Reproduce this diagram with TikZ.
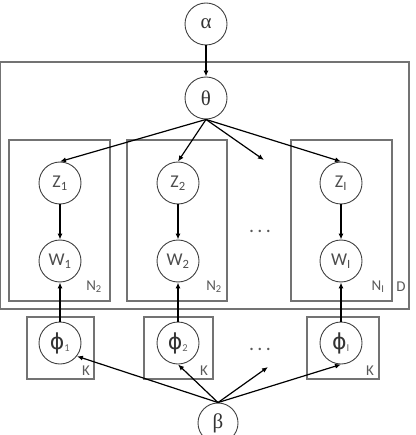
\documentclass[tikz,border=0pt]{standalone}
\usepackage{fontspec}
\setmainfont{Carlito}
\newfontfamily\grk{Liberation Serif}
\newfontfamily\phifont{DejaVu Sans}
\usetikzlibrary{arrows.meta}

\begin{document}
\begin{tikzpicture}[x=1pt,y=-1pt,>={Latex[length=6pt,width=5pt]},
  var/.style={circle,draw=black!75,line width=0.9pt,minimum size=42pt,inner sep=0pt,font=\fontsize{18}{18}\selectfont,text=black!70},
  hyper/.style={var,font=\grk\fontsize{21}{21}\selectfont,text=black!80},
  topic/.style={var,font=\fontsize{15}{15}\selectfont,text=black!60},
  plate/.style={draw=black!55,line width=1.1pt},
  lbl/.style={font=\fontsize{15}{15}\selectfont,text=black!65,inner sep=0pt},
  edge/.style={->,line width=1.2pt}]
\newcommand\tphi[1]{{\phifont\fontsize{22}{22}\selectfont\color{black!80}ϕ}\textsubscript{#1}}
\useasboundingbox (0,0) rectangle (415,435);
% plates
\draw[plate] (0.6,62) rectangle (409,309);
\draw[plate] (9,140) rectangle (110,301);
\draw[plate] (127,140) rectangle (227,301);
\draw[plate] (291,140) rectangle (392,301);
\draw[plate] (27,317) rectangle (94,379);
\draw[plate] (144,317) rectangle (213,379);
\draw[plate] (307,317) rectangle (379,379);
\node[lbl] (n1) at (94,287) {N\textsubscript{2}};
\node[lbl] (n2) at (214,287) {N\textsubscript{2}};
\node[lbl] (nI) at (378,287) {N\textsubscript{I}};
\node[lbl] (d) at (401,287) {D};
\node[lbl] (k1) at (86,371) {K};
\node[lbl] (k2) at (204,371) {K};
\node[lbl] (kI) at (370,371) {K};
% variables
\node[hyper] (alpha) at (206,24) {α};
\node[hyper] (theta) at (206,98) {θ};
\node[var] (z1) at (60,183) {Z\textsubscript{1}};
\node[var] (z2) at (178,183) {Z\textsubscript{2}};
\node[var] (zI) at (341,183) {Z\textsubscript{I}};
\node[var] (w1) at (60,261) {W\textsubscript{1}};
\node[var] (w2) at (178,261) {W\textsubscript{2}};
\node[var] (wI) at (341,261) {W\textsubscript{I}};
\node[topic] (phi1) at (60,343) {\tphi{1}};
\node[topic] (phi2) at (178,343) {\tphi{2}};
\node[topic] (phiI) at (341,343) {\tphi{I}};
\node[hyper,minimum size=40pt] (beta) at (218,423) {β};
\node[lbl,font=\fontsize{20}{20}\selectfont] (dotsw) at (260,231) {.\,.\,.};
\node[lbl,font=\fontsize{20}{20}\selectfont] (dotsphi) at (260,349) {.\,.\,.};
\coordinate (endz) at (264,160);
\coordinate (endphi) at (268,367);
% edges
\draw[edge] (alpha) -- (theta);
\draw[edge] (theta.south) -- (z1.north);
\draw[edge] (theta.south) -- (z2.north);
\draw[edge] (theta.south) -- (endz);
\draw[edge] (theta.south) -- (zI.north);
\draw[edge] (z1) -- (w1);
\draw[edge] (z2) -- (w2);
\draw[edge] (zI) -- (wI);
\draw[edge] (phi1) -- (w1);
\draw[edge] (phi2) -- (w2);
\draw[edge] (phiI) -- (wI);
\draw[edge] (beta.north) -- (phi1.-38);
\draw[edge] (beta.north) -- (phi2.south);
\draw[edge] (beta.north) -- (endphi);
\draw[edge] (beta.north) -- (phiI.south);
\end{tikzpicture}
\end{document}
